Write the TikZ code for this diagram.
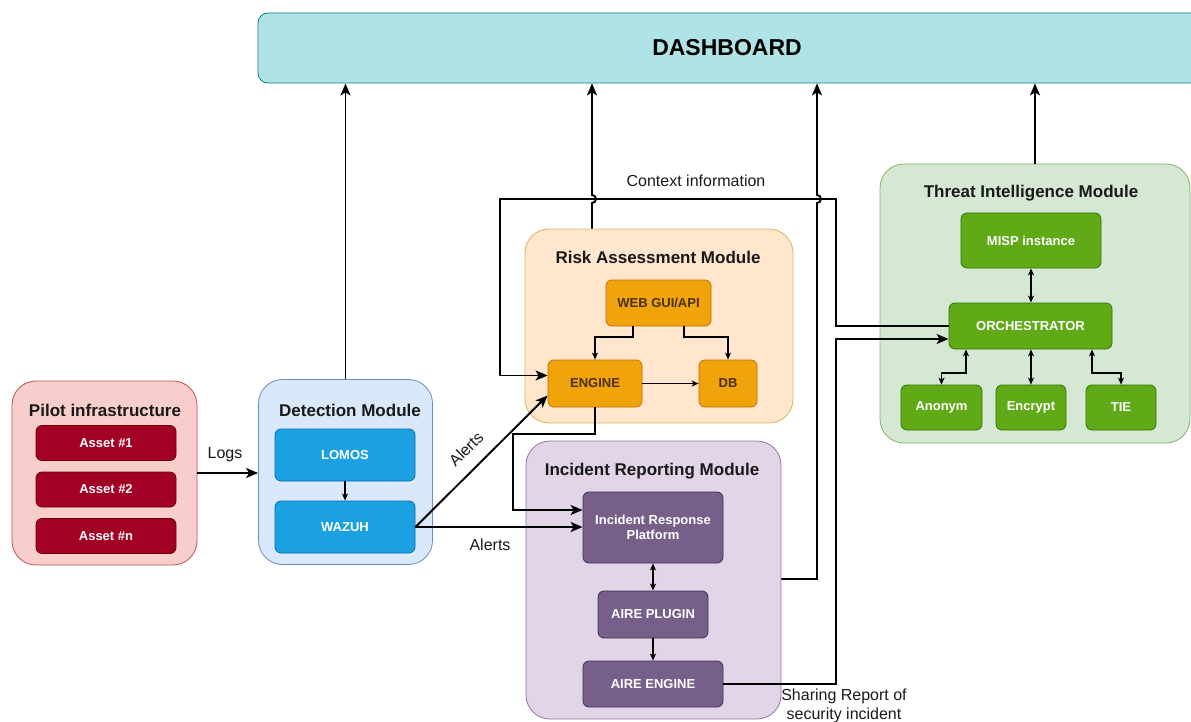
\documentclass[tikz,border=0pt]{standalone}
\usepackage{fontspec}
\setmainfont{Liberation Sans}
\usetikzlibrary{arrows.meta,calc}
\definecolor{dashfill}{HTML}{B0E3E6}\definecolor{dashline}{HTML}{0E8088}
\definecolor{pilfill}{HTML}{F8CECC}\definecolor{pilline}{HTML}{B85450}
\definecolor{assfill}{HTML}{A20025}\definecolor{assline}{HTML}{6F0000}
\definecolor{detfill}{HTML}{DAE8FC}\definecolor{detline}{HTML}{6C8EBF}
\definecolor{detin}{HTML}{1BA1E2}\definecolor{detinl}{HTML}{006EAF}
\definecolor{riskfill}{HTML}{FFE6CC}\definecolor{riskline}{HTML}{D6B656}
\definecolor{riskin}{HTML}{F0A30A}\definecolor{riskinl}{HTML}{BD7000}
\definecolor{risktext}{HTML}{4A3000}
\definecolor{irmfill}{HTML}{E1D5E7}\definecolor{irmline}{HTML}{9673A6}
\definecolor{irmin}{HTML}{76608A}\definecolor{irminl}{HTML}{432D57}
\definecolor{timfill}{HTML}{D5E8D4}\definecolor{timline}{HTML}{82B366}
\definecolor{timin}{HTML}{60A917}\definecolor{timinl}{HTML}{2D7600}
\begin{document}
\begin{tikzpicture}[x=1pt,y=-1pt,
  module/.style={draw, rounded corners=24pt, line width=0.8pt, inner sep=0pt},
  inbox/.style={draw, rounded corners=6pt, line width=0.8pt, inner sep=0pt, align=center,
     text=white, font=\fontsize{13}{15}\selectfont\bfseries},
  ttl/.style={font=\fontsize{17}{20}\selectfont\bfseries, text=black!90},
  lbl/.style={font=\fontsize{16}{19}\selectfont, text=black!90, align=center},
  conn/.style={line width=1.9pt, -{Stealth[length=12pt,width=10pt,inset=3pt]}},
  smallarr/.style={line width=1.3pt, -{Stealth[length=7pt,width=6pt,inset=2pt]}},
  dblarr/.style={line width=1.3pt, {Stealth[length=7pt,width=6pt,inset=2pt]}-{Stealth[length=7pt,width=6pt,inset=2pt]}}
]
\useasboundingbox (0,0) rectangle (1191,722);

% Dashboard
\node[draw=dashline, fill=dashfill, rounded corners=10pt, line width=0.8pt,
  minimum width=952pt, minimum height=70pt, inner sep=0pt,
  font=\fontsize{23}{26}\selectfont\bfseries] (dash) at (734,48) {\hspace*{-14pt}DASHBOARD};

% Pilot infrastructure
\node[module, draw=pilline, fill=pilfill, minimum width=185pt, minimum height=184pt] (pilot) at (104.5,473) {};
\node[ttl] (pilott) at (105,410) {Pilot infrastructure};
\node[inbox, draw=assline, fill=assfill, minimum width=140pt, minimum height=35pt] (a1) at (106,443) {Asset \#1};
\node[inbox, draw=assline, fill=assfill, minimum width=140pt, minimum height=35pt] (a2) at (106,489.5) {Asset \#2};
\node[inbox, draw=assline, fill=assfill, minimum width=140pt, minimum height=35pt] (an) at (106,536) {Asset \#n};

% Detection module
\node[module, draw=detline, fill=detfill, minimum width=174pt, minimum height=185pt] (det) at (345.5,472) {};
\node[ttl] (dett) at (350,410) {Detection Module};
\node[inbox, draw=detinl, fill=detin, minimum width=140pt, minimum height=52pt] (lomos) at (345,455) {LOMOS};
\node[inbox, draw=detinl, fill=detin, minimum width=140pt, minimum height=52pt] (wazuh) at (345,527) {WAZUH};

% Risk assessment module
\node[module, draw=riskline, fill=riskfill, minimum width=268pt, minimum height=194pt] (risk) at (659,326) {};
\node[ttl] (riskt) at (658,257) {Risk Assessment Module};
\node[inbox, draw=riskinl, fill=riskin, text=risktext, minimum width=105pt, minimum height=46pt] (web) at (658.5,303) {WEB GUI/API};
\node[inbox, draw=riskinl, fill=riskin, text=risktext, minimum width=94pt, minimum height=47pt] (engine) at (595,383.5) {ENGINE};
\node[inbox, draw=riskinl, fill=riskin, text=risktext, minimum width=58pt, minimum height=47pt] (db) at (728,383.5) {DB};

% Incident reporting module
\node[module, draw=irmline, fill=irmfill, minimum width=255pt, minimum height=278pt] (irm) at (653.5,580) {};
\node[ttl] (irmt) at (652,471) {Incident Reporting Module};
\node[inbox, draw=irminl, fill=irmin, minimum width=140pt, minimum height=71pt] (irp) at (653,527.5) {Incident Response\\Platform};
\node[inbox, draw=irminl, fill=irmin, minimum width=110pt, minimum height=47pt] (plugin) at (653,614.5) {AIRE PLUGIN};
\node[inbox, draw=irminl, fill=irmin, minimum width=140pt, minimum height=46pt] (aeng) at (653,684) {AIRE ENGINE};

% Threat intelligence module
\node[module, draw=timline, fill=timfill, minimum width=310pt, minimum height=279pt] (tim) at (1035,303.5) {};
\node[ttl] (timt) at (1031,193) {Threat Intelligence Module};
\node[inbox, draw=timinl, fill=timin, minimum width=140pt, minimum height=55pt] (misp) at (1031,240.5) {MISP instance};
\node[inbox, draw=timinl, fill=timin, minimum width=163pt, minimum height=46pt] (orch) at (1030.5,326) {ORCHESTRATOR};
\node[inbox, draw=timinl, fill=timin, minimum width=81pt, minimum height=45pt] (anon) at (941.5,407.5) {Anonym};
\node[inbox, draw=timinl, fill=timin, minimum width=70pt, minimum height=45pt] (encr) at (1031,407.5) {Encrypt};
\node[inbox, draw=timinl, fill=timin, minimum width=70pt, minimum height=45pt] (tie) at (1121,407.5) {TIE};

% helper coordinates
\coordinate (xr) at (592,0);
\coordinate (xi) at (817,0);
\coordinate (xc) at (836,0);
\coordinate (xl) at (500,0);
\coordinate (yc) at (0,199);

% arrows to dashboard
\draw[conn] (det.north) -- (det.north |- dash.south);
\draw[conn] (risk.north -| xr) -- (592,203) arc[start angle=-90, end angle=90, radius=4pt] -- (dash.south -| xr);
\draw[conn] (irm.east |- 0,579) -- (817,579) -- (817,203) arc[start angle=-90, end angle=90, radius=4pt] -- (dash.south -| xi);
\draw[conn] (tim.north) -- (tim.north |- dash.south);

% context information line
\draw[conn] (orch.west) -- (xc |- orch.west) -- (xc |- yc) -- (xl |- yc) -- (500,375.5) -- ([yshift=8pt]engine.west);
\node[lbl] (ctx) at (696,181) {Context information};

% logs
\draw[conn] (pilot.east) -- (pilot.east -| det.west);
\node[lbl] (logs) at (225,455) {Logs};

% alerts
\draw[conn] (wazuh.east) -- ([yshift=-12pt]engine.west);
\node[lbl, rotate=45] (al1) at (466,449) {Alerts};
\draw[conn] (wazuh.east) -- (wazuh.east -| irp.west);
\node[lbl] (al2) at (490,545) {Alerts};

% engine to IRP
\draw[conn] (engine.south) -- (595,434) -- (513,434) -- (513,510) -- ([yshift=17.5pt]irp.west);

% sharing report
\draw[conn] (aeng.east) -- (xc |- aeng.east) -- (836,339) -- ([yshift=-13pt]orch.west);
\node[lbl] (share) at (844,706) {Sharing Report of\\security incident};

% risk internal
\draw[smallarr] ([xshift=-25.5pt]web.south) -- (633,337) -- (595,337) -- (engine.north);
\draw[smallarr] ([xshift=25.5pt]web.south) -- (684,337) -- (728,337) -- (db.north);
\draw[smallarr] (engine.east) -- (db.west);

% detection internal
\draw[smallarr] (lomos.south) -- (wazuh.north);

% incident internal
\draw[dblarr] (irp.south) -- (plugin.north);
\draw[smallarr] (plugin.south) -- (aeng.north);

% threat internal
\draw[dblarr] (misp.south) -- (misp.south |- orch.north);
\draw[dblarr] ([xshift=-64.5pt]orch.south) -- (966,373) -- (941.5,373) -- (anon.north);
\draw[dblarr] (encr.north |- orch.south) -- (encr.north);
\draw[dblarr] ([xshift=61.5pt]orch.south) -- (1092,373) -- (1121,373) -- (tie.north);
\end{tikzpicture}
\end{document}
